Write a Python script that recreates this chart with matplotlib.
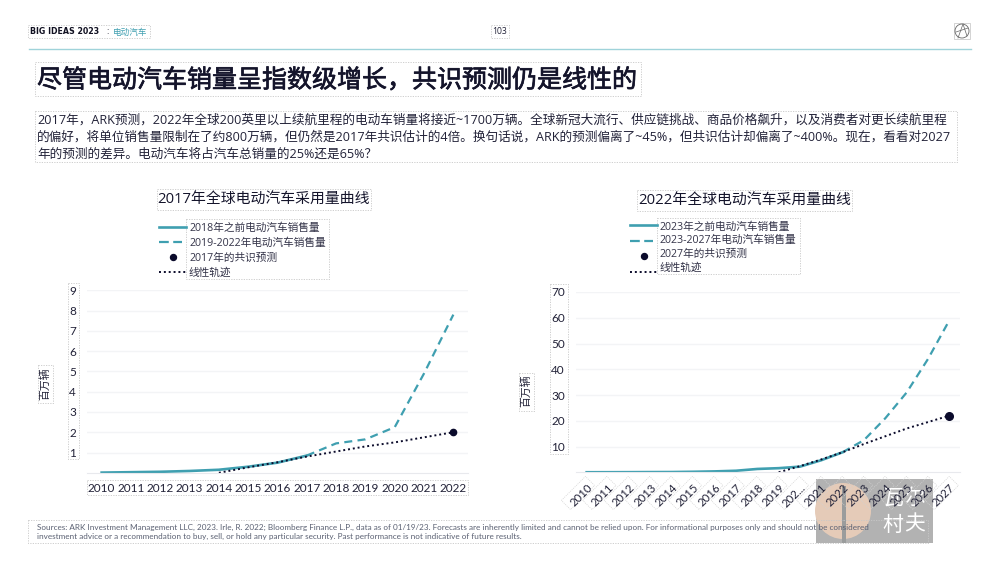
# EV adoption curves slide

import matplotlib
matplotlib.use("Agg")
import matplotlib.pyplot as plt
import matplotlib.patheffects as pe
from matplotlib.patches import Rectangle, Circle, Polygon

plt.rcParams['font.family'] = ['Open Sans', 'Noto Sans CJK SC', 'DejaVu Sans']

years_a = [2010,2011,2012,2013,2014,2015,2016,2017,2018,2019,2020,2021,2022]
solid_a = [0.01,0.03,0.05,0.09,0.15,0.3,0.5,0.85]
dash_a = [0.85,1.45,1.65,2.25,4.9,7.8]
linear_a = [0.0,0.27,0.52,0.8,1.05,1.3,1.5,1.75,2.0]
ticks_a = [1,2,3,4,5,6,7,8,9]
point_a = 2.0

years_b = [2010,2011,2012,2013,2014,2015,2016,2017,2018,2019,2020,2021,2022,2023,2024,2025,2026,2027]
labels_b = ['2010','2011','2012','2013','2014','2015','2016','2017','2018','2019','202...','2021','2022','2023','2024','2025','2026','2027']
solid_b = [0.02,0.03,0.05,0.08,0.1,0.2,0.35,0.6,1.3,1.6,2.2,4.7,7.8]
dash_b = [7.8,12.5,21,31,44,59]
linear_b = [0.0,2.4,5,7.8,11,14,17,19.5,22]
ticks_b = [10,20,30,40,50,60,70]
point_b = 22

legend_a = ['2018年之前电动汽车销售量','2019-2022年电动汽车销售量','2017年的共识预测','线性轨迹']
legend_b = ['2023年之前电动汽车销售量','2023-2027年电动汽车销售量','2027年的共识预测','线性轨迹']

title = '尽管电动汽车销量呈指数级增长，共识预测仍是线性的'
body = ['2017年，ARK预测，2022年全球200英里以上续航里程的电动车销量将接近~1700万辆。全球新冠大流行、供应链挑战、商品价格飙升，以及消费者对更长续航里程',
        '的偏好，将单位销售量限制在了约800万辆，但仍然是2017年共识估计的4倍。换句话说，ARK的预测偏离了~45%，但共识估计却偏离了~400%。现在，看看对2027',
        '年的预测的差异。电动汽车将占汽车总销量的25%还是65%？']
foot = ['Sources: ARK Investment Management LLC, 2023. Irle, R. 2022; Bloomberg Finance L.P., data as of 01/19/23. Forecasts are inherently limited and cannot be relied upon. For informational purposes only and should not be considered',
        'investment advice or a recommendation to buy, sell, or hold any particular security. Past performance is not indicative of future results.']

TEAL = '#3f9fb0'
NAVY = '#0b0b2b'
W, H = 1000, 562

fig = plt.figure(figsize=(W/100, H/100), dpi=100)
bg = fig.add_axes([0, 0, 1, 1])
bg.set_xlim(0, W)
bg.set_ylim(H, 0)
bg.axis('off')


def box(x0, y0, x1, y1):
    bg.add_patch(Rectangle((x0, y0), x1-x0, y1-y0, fill=False, ec='#c8c8c8', lw=0.6, ls=(0, (1.5, 1.5))))


def chart(left, right, top, bottom, ymax, years, ticks, solid, dash, linear, point, ms):
    ax = fig.add_axes([left/W, 1-bottom/H, (right-left)/W, (bottom-top)/H])
    ax.patch.set_alpha(0)
    n = len(years)
    x = list(range(n))
    ax.set_xlim(-0.5, n-0.5)
    ax.set_ylim(0, ymax)
    for s in ax.spines.values():
        s.set_visible(False)
    ax.spines['bottom'].set_visible(True)
    ax.spines['bottom'].set_color('#e8e9ed')
    ax.grid(axis='y', color='#f3f4f6', lw=1)
    ax.set_axisbelow(True)
    ax.tick_params(length=0)
    ax.tick_params(axis='y', pad=8)
    ax.set_yticks(ticks)
    ax.set_yticklabels(ticks, fontsize=8.5, color='#222238', family='Lato')
    ax.set_xticks(x)
    ax.plot(x[:len(solid)], solid, color=TEAL, lw=1.9)
    ax.plot(x[-len(dash):], dash, color=TEAL, lw=1.6, ls=(0, (3.6, 2.4)))
    ax.plot(x[-len(linear):], linear, color=NAVY, lw=1.4, ls=(0, (1, 1.5)))
    ax.plot(x[-1], point, 'o', color=NAVY, ms=ms, clip_on=False)
    return ax


# watermark goes first so the labels stay on top of it
bg.add_patch(Rectangle((816, 479), 117, 64, fc='#b2b2b2', ec='none'))
bg.add_patch(Circle((843, 511), 28, fc='#e5cbb8', ec='none'))
bg.add_patch(Rectangle((842, 486), 4, 57, fc='#9a9c9c', ec='none'))
for cx, cy, ch in [(893, 498, '瓦'), (915, 498, '尔'), (893, 525, '村'), (915, 525, '夫')]:
    bg.text(cx, cy, ch, fontsize=15, color='white', ha='center', va='center')

# header
bg.text(30, 32, 'BIG IDEAS 2023', fontsize=5.7, fontweight='bold', color='#111122', va='center', family='DejaVu Sans')
bg.text(106, 32, ':', fontsize=6.5, color='#111122', va='center')
bg.text(113, 32, '电动汽车', fontsize=6.2, color=TEAL, va='center')
box(28, 25, 150, 38)
bg.text(500, 32, '103', fontsize=6.2, color='#222238', va='center', ha='center')
box(491, 25, 509, 38)
bg.plot([29, 971], [48.5, 48.5], color='#9fd3da', lw=1)
bg.add_patch(Rectangle((954, 23), 16, 16, fill=False, ec='#cccccc', lw=0.6))
bg.add_patch(Circle((962, 31), 7, fill=False, ec='#666666', lw=0.6))
bg.plot([958, 963, 967], [38, 24, 36], color='#666666', lw=0.5)
bg.plot([956, 968], [32, 28], color='#666666', lw=0.5)

# title and body
bg.text(37, 81, title, fontsize=18, color='#14142b', va='center',
        path_effects=[pe.withStroke(linewidth=0.5, foreground='#14142b')])
box(35, 62, 641, 96)
for i, line in enumerate(body):
    bg.text(37, 120+i*17, line, fontsize=9.1, color='#222238', va='center')
box(35, 110.5, 957, 161.5)

# left chart
ax1 = chart(87, 468, 290.3, 472.8, 9, years_a, ticks_a, solid_a, dash_a, linear_a, point_a, 4.5)
ax1.set_xticklabels([str(y) for y in years_a], fontsize=8.5, color='#222238', family='Lato')
ax1.tick_params(axis='x', pad=7.5)
bg.text(263, 200, '2017年全球电动汽车采用量曲线', fontsize=10.7, color='#14142b', ha='center', va='center')
box(157, 189, 371, 210)
for i, t in enumerate(legend_a):
    bg.text(189, 228+i*15.2, t, fontsize=7.7, color='#333348', va='center')
box(186, 219, 329, 279)
bg.plot([159, 186], [227, 227], color=TEAL, lw=1.9)
bg.plot([158.5, 182], [242, 242], color=TEAL, lw=1.6, ls=(0, (4.4, 2)))
bg.plot([173], [257], 'o', color=NAVY, ms=4.3)
bg.plot([159, 186], [272, 272], color=NAVY, lw=1.4, ls=(0, (1, 1.5)))
bg.text(45.5, 384, '百万辆', fontsize=7.8, color='#222238', rotation=90, ha='center', va='center')
box(38, 365, 53, 403)
box(68, 283, 79, 459)
box(87, 480, 468, 495)

# right chart
ax2 = chart(576, 960, 292, 472.3, 70, years_b, ticks_b, solid_b, dash_b, linear_b, point_b, 5.5)
ax2.set_xticklabels(labels_b, fontsize=8.2, color='#222238', family='Lato', rotation=45, ha='right', rotation_mode='anchor')
ax2.tick_params(axis='x', pad=7)
bg.text(745, 201, '2022年全球电动汽车采用量曲线', fontsize=10.7, color='#14142b', ha='center', va='center')
box(637, 190, 852, 211)
for i, t in enumerate(legend_b):
    bg.text(660, 227+i*13.8, t, fontsize=7.7, color='#333348', va='center')
box(657, 218, 800, 274)
bg.plot([630, 657], [225, 225], color=TEAL, lw=1.9)
bg.plot([630, 653], [241, 241], color=TEAL, lw=1.6, ls=(0, (4.4, 2)))
bg.plot([644], [256], 'o', color=NAVY, ms=4.3)
bg.plot([630, 657], [272, 272], color=NAVY, lw=1.4, ls=(0, (1, 1.5)))
bg.text(527, 391, '百万辆', fontsize=7.8, color='#222238', rotation=90, ha='center', va='center')
box(519, 373, 534, 411)
box(550, 284, 568, 454)

# dotted frames round the slanted year labels
for i in range(len(labels_b)):
    cx = 578 + i*21.4
    cy = 493
    a, b = 17, 6.5
    d = 0.7071
    bg.add_patch(Polygon([(cx-a*d-b*d, cy+a*d-b*d), (cx+a*d-b*d, cy-a*d-b*d),
                          (cx+a*d+b*d, cy-a*d+b*d), (cx-a*d+b*d, cy+a*d+b*d)],
                         closed=True, fill=False, ec='#d2d2d2', lw=0.5, ls=(0, (1.5, 1.5))))

# footer
for i, line in enumerate(foot):
    bg.text(37, 527+i*9.8, line, fontsize=5.9, color='#5a6072', va='center', family='Lato')
box(28, 520, 928, 543)

fig.savefig('out.png', dpi=100)
